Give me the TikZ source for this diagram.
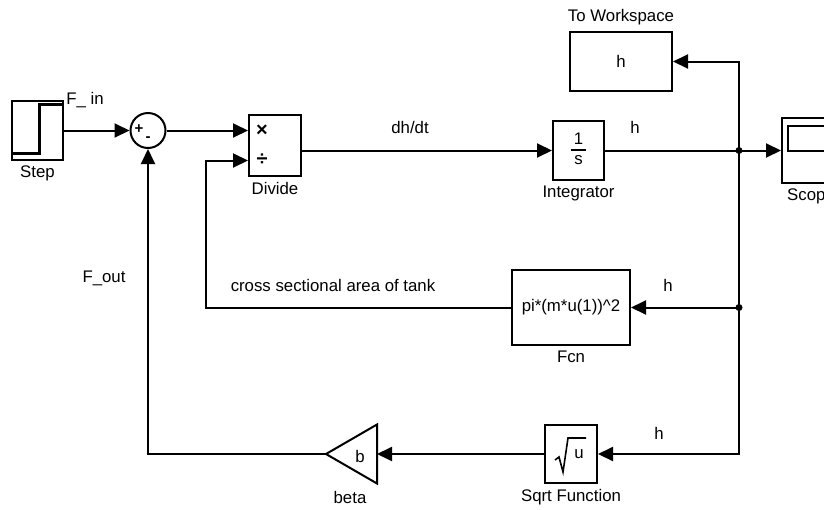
\documentclass[tikz,border=0pt]{standalone}
\usepackage{fontspec}
\setmainfont{Liberation Sans}
\usetikzlibrary{arrows.meta}
\tikzset{
blk/.style={draw, line width=2pt, inner sep=0pt},
sig/.style={line width=2pt, -{Triangle[length=15pt,width=14pt]}},
wire/.style={line width=2pt},
jdot/.style={circle, fill, inner sep=0pt, minimum size=7pt},
under/.style={label={[inner sep=0pt, label distance=5pt]below:#1}},
over/.style={label={[inner sep=0pt, label distance=6pt]above:#1}}
}

\begin{document}
\begin{tikzpicture}[x=1pt, y=-1pt, font=\fontsize{16.8}{20}\selectfont]
\useasboundingbox (0,0) rectangle (824,509);
\clip (0,0) rectangle (824,509);
% blocks
\node[blk, minimum width=51pt, minimum height=59pt, under=Step] (step) at (37.5,130.5) {};
\draw[line width=3pt] (13,153) -- (39,153) -- (39,104) -- (62,104);
\node[blk, circle, minimum size=35pt] (sum) at (148,130.5) {};
\node[font=\fontsize{15}{15}\selectfont\bfseries] (plus) at (139,129) {+};
\node[font=\fontsize{15}{15}\selectfont\bfseries] (minus) at (148,139) {-};
\node[blk, minimum width=52pt, minimum height=61pt, under=Divide] (div) at (275,145.5) {};
\node[font=\fontsize{20}{20}\selectfont\bfseries] (mul) at (262,131) {×};
\node[font=\fontsize{20}{20}\selectfont\bfseries] (dvd) at (262,160) {÷};
\node[blk, minimum width=51pt, minimum height=59pt, under=Integrator] (integ) at (578.5,150.5)
  {\setlength{\arrayrulewidth}{1.6pt}\begin{tabular}{@{\,}c@{\,}}1\\[-1pt]\hline s\end{tabular}};
\node[blk, minimum width=58pt, minimum height=65pt, under=Scope] (scope) at (811,150.5) {};
\draw[line width=2pt] (788,126) rectangle (850,151);
\node[blk, minimum width=102pt, minimum height=59pt, over=To Workspace] (ws) at (621,61.5) {h};
\node[blk, minimum width=118pt, minimum height=75pt, under=Fcn] (fcn) at (571,307.5)
  {\raisebox{-3pt}{pi*(m*u(1))\textasciicircum 2}};
\node[blk, minimum width=52pt, minimum height=58pt, under=Sqrt Function] (sqrt) at (571,454)
  {\hspace{16pt}u};
\draw[line width=1.6pt] (555,460) -- (559,457) -- (563,472) -- (568,438) -- (586,438);
\draw[line width=2pt] (326,454) -- (377,424.5) -- (377,483.5) -- cycle;
\node (beta) at (360,456) {b};
\node (betalbl) at (350,497) {beta};
\coordinate (betain) at (377,454);
\coordinate (betaout) at (326,454);
% branch points
\coordinate (j1) at (739,150.5);
\coordinate (j2) at (j1 |- fcn.east);
\coordinate (divin1) at (sum.east -| div.west);
\coordinate (divin2) at ([yshift=-15pt]div.west);
\node[jdot] (dot1) at (j1) {};
\node[jdot] (dot2) at (j2) {};
% signals
\draw[sig] (step.east |- sum.west) -- (sum.west);
\draw[sig] (sum.east) -- (divin1);
\draw[sig] (integ.west -| div.east) -- (integ.west);
\draw[sig] (integ.east) -- (scope.west);
\draw[sig] (j1) |- (ws.east);
\draw[wire] (j1) -- (j2);
\draw[sig] (j2) |- (sqrt.east);
\draw[sig] (j2) -- (fcn.east);
\draw[sig] (fcn.west) -| ([xshift=-42pt]divin2) -- (divin2);
\draw[sig] (sqrt.west) -- (betain);
\draw[sig] (betaout) -| (sum.south);
% signal names
\node (fin) at (85,100) {F\_ in};
\node (fout) at (104,278) {F\_out};
\node (dhdt) at (410,127) {dh/dt};
\node (h1) at (635,127) {h};
\node (h2) at (668,285) {h};
\node (h3) at (659,433) {h};
\node (area) at (333,285) {cross sectional area of tank};
\end{tikzpicture}
\end{document}
